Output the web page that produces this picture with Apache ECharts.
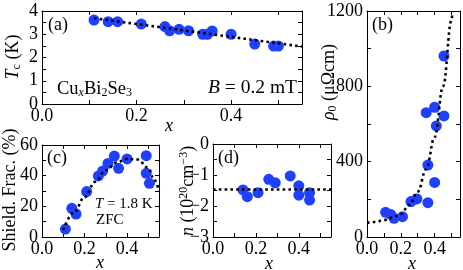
<!DOCTYPE html>
<html>
<head>
<meta charset="utf-8">
<script src="https://cdn.jsdelivr.net/npm/echarts@6/dist/echarts.min.js"></script>
<style>
html,body{margin:0;padding:0;background:#fff;}
#chart{width:463px;height:270px;}
</style>
</head>
<body>
<div id="chart"></div>
<script>
// ---- data ----
const tcX = [0.11, 0.14, 0.16, 0.21, 0.26, 0.27, 0.29, 0.31, 0.34, 0.35, 0.36, 0.40, 0.45, 0.49, 0.50];
const tcY = [3.61, 3.54, 3.54, 3.44, 3.33, 3.15, 3.21, 3.15, 3.00, 3.00, 3.14, 3.00, 2.58, 2.49, 2.49];
const tcFitX = [0.11, 0.55];
const tcFitY = [3.69, 2.47];

const rhoX = [0.11, 0.14, 0.16, 0.21, 0.26, 0.295, 0.36, 0.36, 0.40, 0.35, 0.40, 0.41, 0.455, 0.455];
const rhoY = [131, 120, 99, 108, 188, 202, 182, 382, 290, 660, 689, 590, 643, 961];
const rhoFitX = [0, 0.05, 0.1, 0.15, 0.2, 0.25, 0.3, 0.35, 0.4, 0.45, 0.5, 0.505];
const rhoFitY = [76, 80, 90, 103, 122, 170, 240, 360, 530, 800, 1150, 1200];

const sfX = [0.11, 0.14, 0.16, 0.21, 0.265, 0.285, 0.31, 0.34, 0.36, 0.40, 0.49, 0.49, 0.505];
const sfY = [5.2, 18.7, 15, 29.6, 39.8, 43.0, 48, 52.8, 44.8, 50.9, 53, 41.5, 35];
const sfFitX = [0.10, 0.15, 0.2, 0.25, 0.3, 0.35, 0.4, 0.45, 0.5, 0.525, 0.55];
const sfFitY = [4.5, 16, 26, 36, 43.5, 48.5, 51, 50.5, 45, 38, 30];

const nX = [0.14, 0.16, 0.21, 0.26, 0.29, 0.36, 0.40, 0.40, 0.45, 0.45];
const nY = [-1.48, -1.70, -1.57, -1.14, -1.25, -1.03, -1.35, -1.65, -1.57, -1.81];
const nFitX = [0, 0.55];
const nFitY = [-1.47, -1.47];

const xTickLabels = ['0.0', '0.2', '0.4'];

// ---- styling ----
const FONT = 'Liberation Serif';
const BLUE = '#1f40ff';
const FS = 18;

function zip(a, b) { return a.map((v, i) => [v, b[i]]); }

function xFmt(v) {
  const r = Math.round(v * 10);
  return (r % 2 === 0 && r <= 4) ? xTickLabels[r / 2] : '';
}
function makeYFmt(step, neg) {
  return function (v) {
    const k = v / step;
    if (Math.abs(k - Math.round(k)) > 1e-6) return '';
    const r = Math.round(v);
    if (neg && r < 0) return '\u2212' + (-r);
    return String(r);
  };
}

function axisPair(kind, gi, min, max, interval, fmt) {
  const base = {
    type: 'value', gridIndex: gi, min: min, max: max, interval: interval,
    axisLine: { show: true, onZero: false, lineStyle: { color: '#000', width: 1 } },
    axisTick: { show: true, inside: true, length: 4, lineStyle: { color: '#000', width: 1 } },
    splitLine: { show: false }
  };
  const main = Object.assign({}, base, {
    position: kind === 'x' ? 'bottom' : 'left',
    axisLabel: { show: true, formatter: fmt, margin: kind === 'x' ? 3 : 4, color: '#000', fontSize: FS, fontFamily: FONT,
                 showMinLabel: true, showMaxLabel: true }
  });
  const other = Object.assign({}, base, {
    position: kind === 'x' ? 'top' : 'right',
    axisLabel: { show: false }
  });
  return [main, other];
}

const grids = [
  { left: 42, top: 11, width: 260, height: 93 },   // a
  { left: 367, top: 11, width: 94, height: 226 },  // b
  { left: 42, top: 145, width: 117, height: 92 },  // c
  { left: 213, top: 144, width: 118, height: 93 }  // d
];

const xAxes = [].concat(
  axisPair('x', 0, 0, 0.55, 0.1, xFmt),
  axisPair('x', 1, 0, 0.55, 0.1, xFmt),
  axisPair('x', 2, 0, 0.55, 0.1, xFmt),
  axisPair('x', 3, 0, 0.55, 0.1, xFmt)
);
const yAxes = [].concat(
  axisPair('y', 0, 0, 4, 0.5, makeYFmt(1)),
  axisPair('y', 1, 0, 1200, 200, makeYFmt(400)),
  axisPair('y', 2, 0, 60, 10, makeYFmt(20)),
  axisPair('y', 3, -3, 0, 0.5, makeYFmt(1, true))
);

function scatter(gi, xs, ys) {
  return { type: 'scatter', xAxisIndex: gi * 2, yAxisIndex: gi * 2, data: zip(xs, ys),
           symbol: 'circle', symbolSize: 11, itemStyle: { color: BLUE, opacity: 1 }, z: 2, silent: true };
}
function fit(gi, xs, ys, smooth) {
  return { type: 'line', xAxisIndex: gi * 2, yAxisIndex: gi * 2, data: zip(xs, ys),
           showSymbol: false, symbol: 'none', smooth: smooth || false, smoothMonotone: 'x', clip: true,
           lineStyle: { color: '#000', width: 2.6, type: [2.6, 3.2], cap: 'butt' }, z: 3, silent: true };
}

function richFor(size) {
  const s = Math.round(size * 0.67);
  const lh = size + 2;
  const sl = Math.round(size * 0.5);
  return {
    i: { fontStyle: 'italic', fontSize: size, fontFamily: FONT, lineHeight: lh, fill: '#000', color: '#000' },
    n: { fontSize: size, fontFamily: FONT, lineHeight: lh, fill: '#000', color: '#000' },
    sub: { fontSize: s, fontFamily: FONT, verticalAlign: 'bottom', lineHeight: sl, fill: '#000', color: '#000' },
    subi: { fontSize: s, fontStyle: 'italic', fontFamily: FONT, verticalAlign: 'bottom', lineHeight: sl, fill: '#000', color: '#000' },
    sup: { fontSize: s, fontFamily: FONT, verticalAlign: 'top', lineHeight: sl, fill: '#000', color: '#000' }
  };
}

function txt(x, y, text, align, rot, size) {
  const sz = size || FS;
  return {
    type: 'text', x: x, y: y, rotation: rot || 0, silent: true, z: 10,
    style: {
      text: text, fill: '#000', fontSize: sz, fontFamily: FONT, lineHeight: sz + 2,
      align: align || 'center', textAlign: align || 'center',
      verticalAlign: 'middle', textVerticalAlign: 'middle', rich: richFor(sz)
    }
  };
}

const R = Math.PI / 2;
const graphics = [
  txt(48, 25, '{n|(a)}', 'left'),
  txt(372, 25, '{n|(b)}', 'left'),
  txt(47, 158, '{n|(c)}', 'left'),
  txt(218, 158, '{n|(d)}', 'left'),
  txt(57, 89, '{n|Cu}{subi|x}{n|Bi}{sub|2}{n|Se}{sub|3}', 'left', 0, 18.5),
  txt(297, 88, '{i|B}{n| = 0.2 mT}', 'right', 0, 19.5),
  txt(95, 204, '{i|T}{n| = 1.8 K}', 'left', 0, 15),
  txt(96, 220, '{n|ZFC}', 'left', 0, 15),
  // axis titles
  txt(13, 57, '{i|T}{sub|c}{n| (K)}', 'center', R),
  txt(329, 82, '{i|\u03c1}{sub|0}{n| (\u03bc\u03a9cm)}', 'center', R),
  txt(10, 190, '{n|Shield. Frac. (%)}', 'center', R),
  txt(188, 191, '{i|n}{n| (10}{sup|20}{n|cm}{sup|\u22123}{n|)}', 'center', R),
  txt(169, 126, '{i|x}', 'center'),
  txt(412, 264, '{i|x}', 'center'),
  txt(100, 263, '{i|x}', 'center'),
  txt(269, 264, '{i|x}', 'center')
];

const chart = echarts.init(document.getElementById('chart'), null, { renderer: 'canvas' });
chart.setOption({
  animation: false,
  backgroundColor: '#fff',
  textStyle: { fontFamily: FONT },
  grid: grids,
  xAxis: xAxes,
  yAxis: yAxes,
  series: [
    scatter(0, tcX, tcY), fit(0, tcFitX, tcFitY),
    scatter(1, rhoX, rhoY), fit(1, rhoFitX, rhoFitY, 0.4),
    scatter(2, sfX, sfY), fit(2, sfFitX, sfFitY, 0.4),
    scatter(3, nX, nY), fit(3, nFitX, nFitY)
  ],
  graphic: graphics
});
</script>
</body>
</html>
